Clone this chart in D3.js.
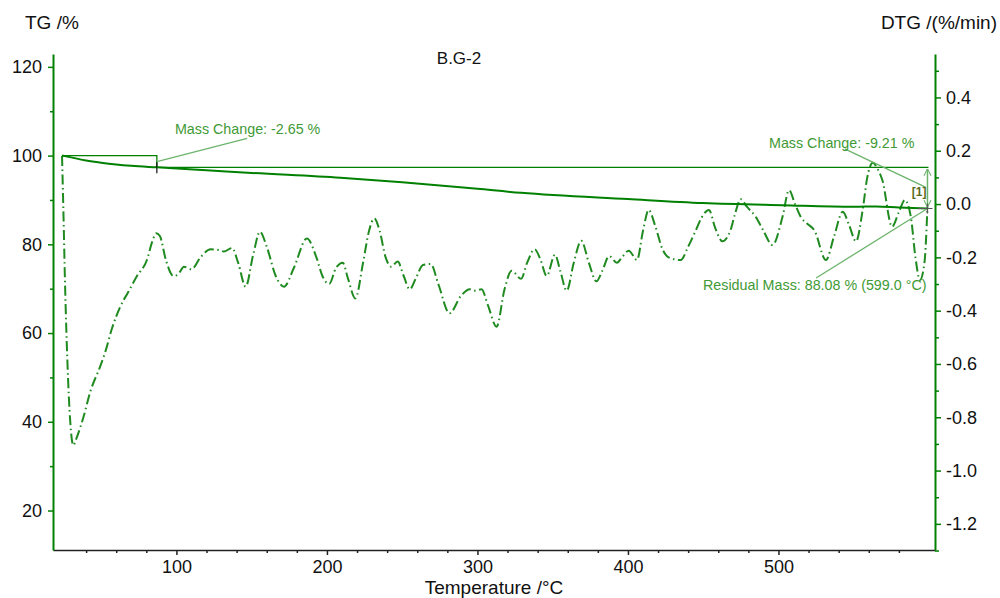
<!DOCTYPE html>
<html>
<head>
<meta charset="utf-8">
<script src="https://cdn.jsdelivr.net/npm/d3@7"></script>
<style>
  body { margin: 0; background: #fff; }
  svg { font-family: "Liberation Sans", Arial, sans-serif; }
</style>
</head>
<body>
<svg id="chart" width="1000" height="598"></svg>
<script>
// TG curve (mass %)
const tgTemp = [24, 30, 40, 50, 60, 70, 87, 120, 150, 209, 250, 300, 329, 400, 450, 503, 550, 565, 580, 599]
const tgMass = [100, 99.6, 98.9, 98.4, 98.0, 97.7, 97.35, 96.7, 96.1, 95.0, 94.0, 92.5, 91.6, 90.2, 89.3, 88.8, 88.45, 88.55, 88.3, 88.08]

// DTG curve (%/min)
const dtgTemp = [24, 24.8, 26, 27.5, 29.5, 31.5, 33.5, 36, 38.2, 43, 49.3, 53, 57, 62.7, 68, 73.8, 80.4, 84, 86.5, 89,
  93, 98, 101, 105, 110, 116, 122.7, 128, 131.5, 137, 141, 146, 151, 155.5, 160, 166, 171.5, 178, 186.7, 193,
  197, 201.5, 206, 210.5, 214, 218.9, 224, 228, 231.5, 235, 239, 242.7, 247, 251, 255, 259, 263.8, 269, 274, 281.5,
  289, 294.9, 298, 302.7, 307, 312.7, 318, 322.7, 329, 333, 338, 342, 346, 351.5, 355, 359.3, 364, 369, 374, 379,
  383, 387.5, 392.7, 396, 400.5, 406, 410, 413.8, 418, 423, 427, 435, 440, 445, 449, 453.8, 458, 462.7, 468, 471,
  474.9, 479, 484.9, 490, 496, 502.7, 507, 511, 515, 519, 524, 531.5, 537, 542.7, 547, 551.5, 556, 559, 562.7, 566,
  569, 575.5, 580, 584, 588, 591, 594, 597, 599]
const dtgRate = [0.18, 0.0, -0.30, -0.58, -0.82, -0.905, -0.88, -0.84, -0.80, -0.70, -0.61, -0.55, -0.47, -0.385, -0.33, -0.27, -0.21, -0.14, -0.11, -0.12,
  -0.21, -0.27, -0.265, -0.235, -0.245, -0.20, -0.17, -0.172, -0.178, -0.165, -0.22, -0.31, -0.19, -0.104, -0.16, -0.27, -0.31, -0.24, -0.129, -0.20,
  -0.27, -0.30, -0.24, -0.22, -0.28, -0.354, -0.22, -0.10, -0.054, -0.10, -0.20, -0.235, -0.216, -0.27, -0.32, -0.28, -0.229, -0.225, -0.30, -0.41,
  -0.345, -0.32, -0.325, -0.32, -0.38, -0.46, -0.32, -0.25, -0.28, -0.22, -0.17, -0.21, -0.27, -0.19, -0.25, -0.325, -0.22, -0.138, -0.22, -0.29,
  -0.25, -0.195, -0.22, -0.20, -0.175, -0.21, -0.10, -0.022, -0.08, -0.17, -0.20, -0.21, -0.16, -0.10, -0.05, -0.022, -0.09, -0.14, -0.10, -0.04,
  0.018, -0.01, -0.048, -0.10, -0.154, -0.048, 0.052, 0.0, -0.05, -0.073, -0.10, -0.21, -0.12, -0.029, -0.08, -0.14, -0.02, 0.10, 0.155, 0.13,
  0.09, -0.085, -0.03, 0.015, -0.05, -0.20, -0.285, -0.22, -0.01]

// ticks
const tempTicks = [100, 200, 300, 400, 500]
const tempMinor = d3.range(40, 600, 20)
const tgTicks = [20, 40, 60, 80, 100, 120]
const tgMinor = [30, 50, 70, 90, 110]
const dtgTicks = [-1.2, -1.0, -0.8, -0.6, -0.4, -0.2, 0.0, 0.2, 0.4]
const dtgMinor = [-1.3, -1.1, -0.9, -0.7, -0.5, -0.3, -0.1, 0.1, 0.3, 0.5]

// annotations
const stepStart = [24, 100]
const stepEnd = [87, 97.35]
const stepLabel = 'Mass Change: -2.65 %'
const totalEnd = [599, 88.08]
const totalLabel = 'Mass Change: -9.21 %'
const residualLabel = 'Residual Mass: 88.08 % (599.0 °C)'

const green = '#008000'
const textGreen = '#3f9a35'
const leadGreen = '#6cb46c'

const mLeft = 53, mRight = 935, mTop = 54, mBottom = 550

const svg = d3.select('#chart')

const x = d3.scaleLinear().domain([18, 604]).range([mLeft, mRight])
const yTG = d3.scaleLinear().domain([11.1, 122.9]).range([mBottom, mTop])
const yDTG = d3.scaleLinear().domain([-1.298, 0.563]).range([mBottom, mTop])

// axes
const styleAxis = (g, col) => {
  g.selectAll('.domain').attr('stroke', col).attr('stroke-width', 2)
  g.selectAll('.tick line').attr('stroke', col).attr('stroke-width', 1.5)
  g.selectAll('.tick text').attr('fill', '#111').attr('font-size', 18)
}

const gx = svg.append('g')
  .attr('transform', `translate(0,${mBottom})`)
  .call(d3.axisBottom(x).tickValues(tempTicks).tickSize(5).tickSizeOuter(0).tickPadding(5).tickFormat(d3.format('d')))
styleAxis(gx, '#222')
gx.select('.domain').attr('stroke-width', 1.6)
svg.append('g')
  .attr('transform', `translate(0,${mBottom})`)
  .call(d3.axisBottom(x).tickValues(tempMinor.filter(d => d % 100)).tickSize(3).tickFormat(''))
  .call(g => g.select('.domain').remove())
  .selectAll('line').attr('stroke', '#222').attr('stroke-width', 1.5)

const gl = svg.append('g')
  .attr('transform', `translate(${mLeft},0)`)
  .call(d3.axisLeft(yTG).tickValues(tgTicks).tickSize(5).tickSizeOuter(0).tickPadding(6))
styleAxis(gl, green)
svg.append('g')
  .attr('transform', `translate(${mLeft},0)`)
  .call(d3.axisLeft(yTG).tickValues(tgMinor).tickSize(3).tickFormat(''))
  .call(g => g.select('.domain').remove())
  .selectAll('line').attr('stroke', green).attr('stroke-width', 1.5)

const gr = svg.append('g')
  .attr('transform', `translate(${mRight},0)`)
  .call(d3.axisRight(yDTG).tickValues(dtgTicks).tickSize(6).tickSizeOuter(0).tickPadding(5))
styleAxis(gr, green)
gr.selectAll('.tick text').text(d => d.toFixed(1))
svg.append('g')
  .attr('transform', `translate(${mRight},0)`)
  .call(d3.axisRight(yDTG).tickValues(dtgMinor).tickSize(4).tickFormat(''))
  .call(g => g.select('.domain').remove())
  .selectAll('line').attr('stroke', green).attr('stroke-width', 1.5)

// titles
svg.append('text').attr('x', 25).attr('y', 29).attr('font-size', 19).attr('fill', '#111').text('TG /%')
svg.append('text').attr('x', 997).attr('y', 29).attr('font-size', 19).attr('fill', '#111')
  .attr('text-anchor', 'end').text('DTG /(%/min)')
svg.append('text').attr('x', 459).attr('y', 64).attr('font-size', 17).attr('fill', '#111')
  .attr('text-anchor', 'middle').text('B.G-2')
svg.append('text').attr('x', 494).attr('y', 594).attr('font-size', 19).attr('fill', '#111')
  .attr('text-anchor', 'middle').text('Temperature /°C')

// DTG curve
const dtgLine = d3.line()
  .x((d, i) => x(dtgTemp[i]))
  .y(d => yDTG(d))
  .curve(d3.curveMonotoneX)
svg.append('path')
  .datum(dtgRate)
  .attr('d', dtgLine)
  .attr('fill', 'none')
  .attr('stroke', '#1f8a1f')
  .attr('stroke-width', 2)
  .attr('stroke-dasharray', '10,3.5,1.5,3.5')

// TG curve
const tgLine = d3.line()
  .x((d, i) => x(tgTemp[i]))
  .y(d => yTG(d))
  .curve(d3.curveMonotoneX)
svg.append('path')
  .datum(tgMass)
  .attr('d', tgLine)
  .attr('fill', 'none')
  .attr('stroke', green)
  .attr('stroke-width', 2)

// first mass step box
const ann = svg.append('g').attr('fill', 'none')
ann.append('path')
  .attr('d', `M${x(stepStart[0])},${yTG(stepStart[1])}H${x(stepEnd[0])}V${yTG(stepEnd[1])}`)
  .attr('stroke', green).attr('stroke-width', 1.3)
ann.append('path')
  .attr('d', `M${x(stepEnd[0])},${yTG(stepEnd[1]) - 5}V${yTG(stepEnd[1]) + 6}`)
  .attr('stroke', '#111').attr('stroke-width', 1.2)
ann.append('line')
  .attr('x1', x(stepEnd[0]) + 1).attr('y1', yTG(stepEnd[1]) - 6)
  .attr('x2', x(147)).attr('y2', yTG(stepEnd[1]) - 29)
  .attr('stroke', leadGreen).attr('stroke-width', 1.3)
svg.append('text').attr('x', x(99)).attr('y', yTG(stepEnd[1]) - 33)
  .attr('font-size', 14.3).attr('fill', textGreen).text(stepLabel)

// total mass change line
ann.append('line')
  .attr('x1', x(stepEnd[0])).attr('y1', yTG(stepEnd[1]))
  .attr('x2', x(totalEnd[0]) + 1).attr('y2', yTG(stepEnd[1]))
  .attr('stroke', green).attr('stroke-width', 1.3)

// double arrow
const defs = svg.append('defs')
defs.append('marker')
  .attr('id', 'arr')
  .attr('viewBox', '0 0 10 10')
  .attr('refX', 9).attr('refY', 5)
  .attr('markerWidth', 7).attr('markerHeight', 9)
  .attr('orient', 'auto-start-reverse')
  .attr('markerUnits', 'userSpaceOnUse')
  .append('path').attr('d', 'M0,0L10,5L0,10')
  .attr('fill', 'none').attr('stroke', leadGreen).attr('stroke-width', 1.5)
ann.append('line')
  .attr('x1', x(totalEnd[0])).attr('y1', yTG(stepEnd[1]) + 2)
  .attr('x2', x(totalEnd[0])).attr('y2', yTG(totalEnd[1]) - 2)
  .attr('stroke', leadGreen).attr('stroke-width', 1.5)
  .attr('marker-start', 'url(#arr)').attr('marker-end', 'url(#arr)')

svg.append('text').attr('x', x(totalEnd[0]) - 1).attr('y', yTG(91.0))
  .attr('font-size', 12).attr('font-weight', 'bold').attr('fill', '#5a6b1f')
  .attr('text-anchor', 'end').text('[1]')

// leader for total mass change
ann.append('line')
  .attr('x1', x(544)).attr('y1', yTG(101.5))
  .attr('x2', x(totalEnd[0]) - 2).attr('y2', yTG(92.9))
  .attr('stroke', leadGreen).attr('stroke-width', 1.3)
svg.append('text').attr('x', x(493.7)).attr('y', yTG(101.8))
  .attr('font-size', 14.3).attr('fill', textGreen).text(totalLabel)

// residual mass leader + end marker
ann.append('line')
  .attr('x1', x(525)).attr('y1', yTG(72.4))
  .attr('x2', x(totalEnd[0])).attr('y2', yTG(totalEnd[1]))
  .attr('stroke', leadGreen).attr('stroke-width', 1.3)
ann.append('path')
  .attr('d', `M${x(totalEnd[0]) - 10},${yTG(totalEnd[1])}H${x(totalEnd[0]) + 5}M${x(totalEnd[0])},${yTG(totalEnd[1]) - 5}V${yTG(totalEnd[1]) + 5}`)
  .attr('stroke', '#555').attr('stroke-width', 1.2)
svg.append('text').attr('x', x(totalEnd[0]) - 1).attr('y', yTG(69.6))
  .attr('font-size', 14.3).attr('fill', textGreen).attr('text-anchor', 'end').text(residualLabel)
</script>
</body>
</html>
